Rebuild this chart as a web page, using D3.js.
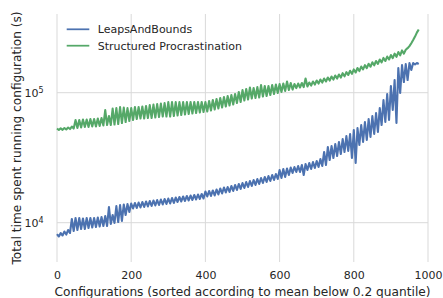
<!DOCTYPE html>
<html>
<head>
<meta charset="utf-8">
<script src="https://cdn.jsdelivr.net/npm/d3@7"></script>
<style>
  html, body { margin: 0; padding: 0; background: #fff; }
  svg { display: block; font-family: "DejaVu Sans", sans-serif; }
</style>
</head>
<body>
<svg width="443" height="298"></svg>
<script>
// one value every 5 configurations, starting at configuration 0
const configStep = 5;

const seriesNames = ["LeapsAndBounds", "Structured Procrastination"];

const leapsAndBounds = [
  8185, 7830, 8330, 7970, 8547, 8110, 8790, 8330, 10680, 8630,
  10870, 8790, 10870, 8945, 10770, 8945, 10870, 9100, 10870, 9180,
  10870, 9270, 10970, 9350, 11060, 9440, 11260, 9440, 13210, 9770,
  11460, 9950, 13440, 10120, 13680, 10310, 13810, 11460, 13930, 12090,
  14050, 12870, 14180, 12980, 14300, 13090, 14430, 13210, 14560, 13330,
  14690, 13440, 14820, 13560, 14950, 13680, 15080, 13810, 15220, 13930,
  15350, 14050, 15490, 14180, 15630, 14430, 15770, 14560, 15910, 14690,
  16050, 14820, 16190, 14950, 16340, 15080, 16480, 15220, 16630, 15350,
  17380, 15910, 17540, 16050, 17700, 16190, 18010, 16480, 18330, 16780,
  18660, 17080, 18820, 17230, 19160, 17540, 19500, 17850, 19850, 18170,
  20200, 18490, 20560, 18820, 20930, 19160, 21300, 19500, 21680, 19850,
  22070, 20200, 22470, 20560, 22870, 20930, 23280, 21300, 23690, 21680,
  25430, 22070, 25890, 22470, 26120, 23280, 26580, 24120, 26820, 24550,
  27300, 24550, 27790, 23280, 28280, 25430, 28790, 25890, 29300, 26350,
  29830, 26820, 30900, 27300, 34980, 27790, 38210, 30360, 38890, 31450,
  40290, 32580, 41750, 33760, 44030, 34980, 46430, 35610, 48100, 31450,
  51630, 28790, 53490, 39590, 56410, 41750, 59480, 43250, 62730, 45610,
  66150, 48100, 69760, 49830, 76210, 56410, 87810, 59480, 97650, 61630,
  112500, 73560, 125100, 58440, 154800, 99400, 163300, 120800, 166200, 125100,
  169100, 149400, 169100, 164700, 169100, 166200
];

const structuredProcrastination = [
  53020, 51630, 53200, 51810, 53490, 52090, 53970, 52550, 54930, 53020,
  61630, 53490, 61630, 53970, 62180, 54450, 62180, 54450, 62730, 54930,
  62730, 54930, 63290, 55420, 63850, 55910, 73560, 56410, 66150, 56410,
  75540, 56910, 76210, 57410, 77570, 58440, 76890, 59480, 76210, 60540,
  76210, 61630, 77570, 62730, 77570, 63290, 78260, 63290, 78960, 63850,
  80370, 63850, 81080, 64420, 81800, 64990, 82530, 65570, 83260, 65570,
  84750, 65570, 84750, 66150, 84750, 66740, 84750, 67330, 84750, 67930,
  84750, 68530, 84750, 69140, 84750, 69760, 84750, 70370, 84750, 71000,
  84750, 71630, 86270, 72910, 87810, 74220, 89380, 75540, 90970, 76890,
  92600, 78260, 94250, 79660, 95940, 81080, 97650, 83260, 101200, 84750,
  104800, 87030, 106700, 88590, 109600, 90170, 108600, 90970, 110500, 91780,
  114500, 93420, 112500, 94250, 112500, 95940, 114500, 97650, 115500, 99400,
  116600, 101200, 117600, 103000, 121900, 104800, 118700, 105700, 116600, 108600,
  117600, 109600, 118700, 110500, 128500, 111500, 119700, 113500, 121900, 115500,
  124000, 117600, 126200, 119700, 128500, 121900, 130800, 124000, 133100, 126200,
  135500, 128500, 138000, 130800, 141200, 133600, 143900, 136800, 147400, 139700,
  151000, 143000, 154800, 146700, 158900, 151000, 162900, 154600, 166900, 158400,
  171200, 162500, 175300, 166700, 180000, 171200, 185000, 175300, 189700, 180000,
  194800, 184600, 199800, 188900, 205500, 194000, 211300, 199800, 214000, 220000,
  228000, 240000, 254000, 270000, 290000, 306000
];

const xTicks = [0, 200, 400, 600, 800, 1000];
const yTicks = [1e4, 1e5];
const yTickExponents = ["4", "5"];

const xLabel = "Configurations (sorted according to mean below 0.2 quantile)";
const yLabel = "Total time spent running configuration (s)";

const colors = ["#4c72b0", "#55a868"];

const svg = d3.select("svg"),
  margin = { top: 14, right: 15, bottom: 36, left: 57 },
  width = +svg.attr("width") - margin.left - margin.right,
  height = +svg.attr("height") - margin.top - margin.bottom,
  g = svg.append("g").attr("transform", `translate(${margin.left},${margin.top})`);

const x = d3.scaleLinear().domain([0, 1000]).range([0, width]);
// log axis limits (bottom ~5.0e3, top ~4.0e5)
const y = d3.scaleLog().domain([4985, 403000]).range([height, 0]);

// grid
g.append("g")
  .selectAll("line.vx")
  .data(xTicks)
  .enter()
  .append("line")
  .attr("x1", (d) => x(d))
  .attr("x2", (d) => x(d))
  .attr("y1", 0)
  .attr("y2", height)
  .attr("stroke", "#d9d9d9")
  .attr("stroke-width", 1);

g.append("g")
  .selectAll("line.hy")
  .data(yTicks)
  .enter()
  .append("line")
  .attr("x1", 0)
  .attr("x2", width)
  .attr("y1", (d) => y(d))
  .attr("y2", (d) => y(d))
  .attr("stroke", "#d9d9d9")
  .attr("stroke-width", 1);

// x axis
const xAxis = g.append("g")
  .attr("transform", `translate(0,${height})`)
  .call(d3.axisBottom(x).tickValues(xTicks).tickSize(0).tickPadding(9.5).tickFormat(d3.format("d")));
xAxis.select(".domain").remove();
xAxis.selectAll("text")
  .attr("font-size", 11)
  .attr("font-family", "DejaVu Sans, sans-serif")
  .attr("fill", "#262626");

// y axis with 10^n labels
const yAxis = g.append("g")
  .call(d3.axisLeft(y).tickValues(yTicks).tickSize(0).tickPadding(13.5).tickFormat(() => ""));
yAxis.select(".domain").remove();
yAxis.selectAll("text")
  .attr("font-size", 11)
  .attr("font-family", "DejaVu Sans, sans-serif")
  .attr("fill", "#262626")
  .each(function (d, i) {
    const t = d3.select(this);
    t.append("tspan").text("10");
    t.append("tspan").attr("font-size", 8).attr("dy", -3.5).text(yTickExponents[i]);
  });

// lines
const line = d3.line()
  .x((d, i) => x(i * configStep))
  .y((d) => y(d));

[leapsAndBounds, structuredProcrastination].forEach((s, i) => {
  g.append("path")
    .datum(s)
    .attr("fill", "none")
    .attr("stroke", colors[i])
    .attr("stroke-width", 2.1)
    .attr("stroke-linejoin", "round")
    .attr("d", line);
});

// legend
const legend = g.append("g").attr("transform", "translate(9.7,15.3)");
seriesNames.forEach((name, i) => {
  const row = legend.append("g").attr("transform", `translate(0,${i * 16.4})`);
  row.append("line")
    .attr("x1", 0).attr("x2", 22.6)
    .attr("y1", 0).attr("y2", 0)
    .attr("stroke", colors[i])
    .attr("stroke-width", 1.75);
  row.append("text")
    .attr("x", 31)
    .attr("y", 4)
    .attr("font-size", 11)
    .attr("fill", "#262626")
    .text(name);
});

// axis labels
svg.append("text")
  .attr("x", margin.left + width / 2)
  .attr("y", 295.5)
  .attr("text-anchor", "middle")
  .attr("font-size", 12.2)
  .attr("fill", "#262626")
  .text(xLabel);

svg.append("text")
  .attr("transform", `translate(20.5,${margin.top + height / 2}) rotate(-90)`)
  .attr("text-anchor", "middle")
  .attr("font-size", 12.2)
  .attr("fill", "#262626")
  .text(yLabel);
</script>
</body>
</html>
